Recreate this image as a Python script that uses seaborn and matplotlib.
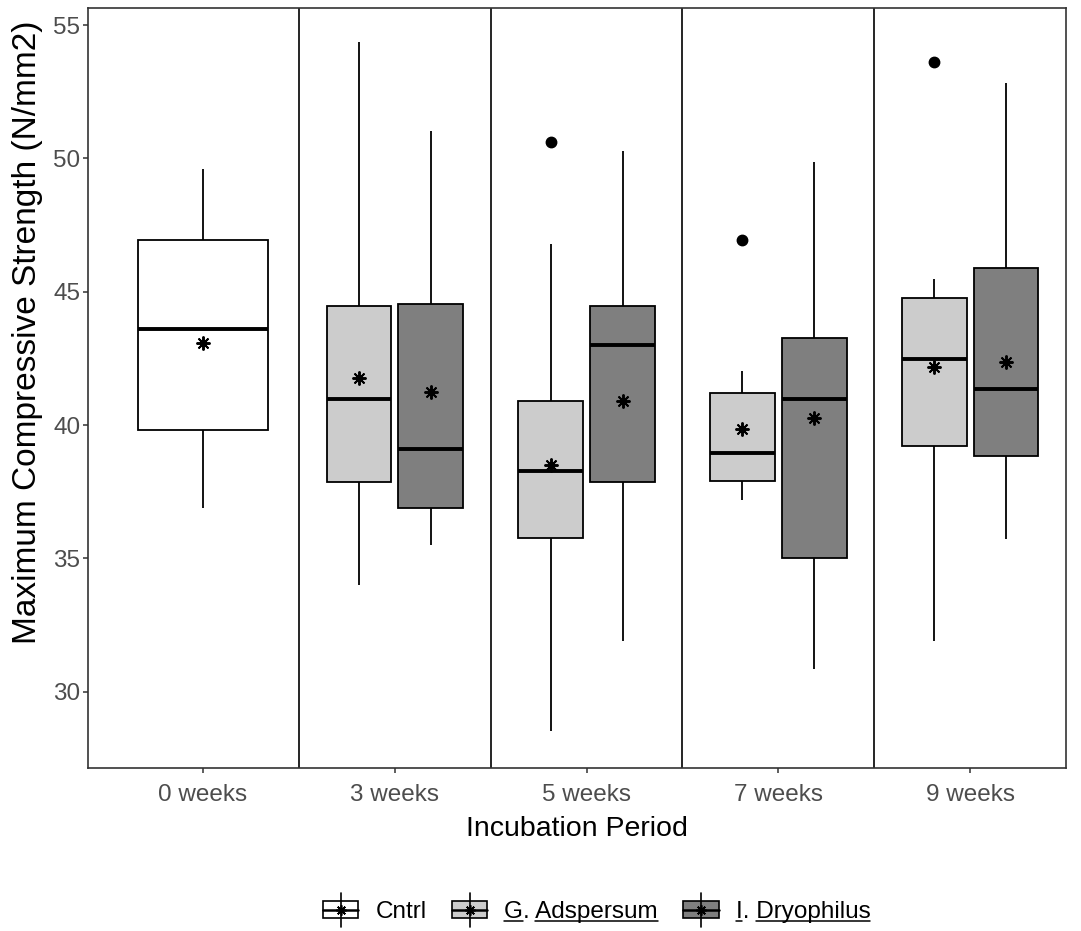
import numpy as np
import pandas as pd
import matplotlib
matplotlib.use("Agg")
import matplotlib.pyplot as plt
import seaborn as sns
from matplotlib.legend_handler import HandlerBase
from matplotlib.patches import Rectangle
from matplotlib.lines import Line2D

# ---- data -------------------------------------------------------------
weeks = ["0 weeks", "3 weeks", "5 weeks", "7 weeks", "9 weeks"]
groups = ["Cntrl", "G. Adspersum", "I. Dryophilus"]
fills = {"Cntrl": "#FFFFFF", "G. Adspersum": "#CCCCCC", "I. Dryophilus": "#7F7F7F"}

# box summaries: [whisker low, Q1, median, Q3, whisker high]
cntrl_weeks = ["0 weeks"]
cntrl_stats = [[36.88, 39.81, 43.59, 46.94, 49.60]]
cntrl_outliers = [[]]
cntrl_means = [43.09]

treat_weeks = ["3 weeks", "5 weeks", "7 weeks", "9 weeks"]
gad_stats = [[34.00, 37.85, 40.97, 44.48, 54.35],
             [28.54, 35.75, 38.28, 40.92, 46.80],
             [37.19, 37.92, 38.95, 41.22, 42.01],
             [31.90, 39.20, 42.48, 44.78, 45.46]]
gad_outliers = [[], [50.61], [46.95], [53.61]]
gad_means = [41.75, 38.51, 39.87, 42.19]

idr_stats = [[35.50, 36.88, 39.09, 44.53, 51.03],
             [31.90, 37.86, 43.00, 44.45, 50.26],
             [30.85, 35.03, 40.97, 43.25, 49.88],
             [35.73, 38.84, 41.35, 45.88, 52.81]]
idr_outliers = [[], [], [], []]
idr_means = [41.23, 40.92, 40.27, 42.35]

underlined = {"Cntrl": [], "G. Adspersum": ["G", "Adspersum"],
              "I. Dryophilus": ["I", "Dryophilus"]}


def summary_sample(stats, outliers):
    """Values whose quartiles / whiskers equal the given summary."""
    lo, q1, med, q3, hi = stats
    return [lo, q1, q1, med, med, q3, q3, hi] + list(outliers)


def long_frame(group, wks, stats, outliers):
    rows = []
    for w, s, o in zip(wks, stats, outliers):
        for v in summary_sample(s, o):
            rows.append({"week": w, "group": group, "value": v})
    return pd.DataFrame(rows)


df_c = long_frame("Cntrl", cntrl_weeks, cntrl_stats, cntrl_outliers)
df_t = pd.concat([long_frame("G. Adspersum", treat_weeks, gad_stats, gad_outliers),
                  long_frame("I. Dryophilus", treat_weeks, idr_stats, idr_outliers)],
                 ignore_index=True)
mean_c = pd.DataFrame({"week": cntrl_weeks, "group": "Cntrl", "value": cntrl_means})
mean_t = pd.concat([pd.DataFrame({"week": treat_weeks, "group": "G. Adspersum", "value": gad_means}),
                    pd.DataFrame({"week": treat_weeks, "group": "I. Dryophilus", "value": idr_means})],
                   ignore_index=True)

# ---- style ------------------------------------------------------------
sns.set_style("white")
plt.rcParams["font.family"] = ["Liberation Sans", "DejaVu Sans"]

AXCOL = "#333333"
TICKCOL = "#4D4D4D"
STAR = (8, 2, 0)

fig, ax = plt.subplots(figsize=(10.81, 9.31), dpi=100)
fig.subplots_adjust(left=88 / 1081, right=1066 / 1081, top=1 - 8 / 931, bottom=1 - 768 / 931)

box_kw = dict(x="week", y="value", hue="group", order=weeks, linecolor="black",
              linewidth=1.3, saturation=1, showcaps=False, whis=1.5, legend=False, ax=ax,
              medianprops=dict(linewidth=2.8, color="black"),
              flierprops=dict(marker="o", markersize=7.5, markerfacecolor="black",
                              markeredgecolor="black"))
sns.boxplot(data=df_c, hue_order=["Cntrl"], palette={"Cntrl": fills["Cntrl"]},
            width=0.68, dodge=False, **box_kw)
sns.boxplot(data=df_t, hue_order=groups[1:], palette={g: fills[g] for g in groups[1:]},
            width=0.75, gap=0.1, dodge=True, **box_kw)

pt_kw = dict(x="week", y="value", hue="group", order=weeks, errorbar=None,
             linestyle="none", marker=STAR, markersize=10, markeredgewidth=1.4,
             legend=False, ax=ax)
sns.pointplot(data=mean_c, hue_order=["Cntrl"], palette={"Cntrl": "black"},
              dodge=False, **pt_kw)
sns.pointplot(data=mean_t, hue_order=groups[1:], palette={g: "black" for g in groups[1:]},
              dodge=0.375, **pt_kw)

# panel separators between incubation periods
for b in np.arange(len(weeks) - 1) + 0.5:
    ax.axvline(b, color="black", lw=1.2, zorder=0.5)

ax.set_xlim(-0.6, len(weeks) - 0.5)
ax.set_ylim(27.14, 55.64)
ax.set_yticks([30, 35, 40, 45, 50, 55])
for sp in ax.spines.values():
    sp.set_visible(True)
    sp.set_color(AXCOL)
    sp.set_linewidth(1.2)
ax.tick_params(axis="both", bottom=True, left=True, length=3.6, width=1.1, color=AXCOL,
               labelcolor=TICKCOL, labelsize=17.5)
ax.tick_params(axis="x", pad=8)
ax.tick_params(axis="y", pad=2)
ax.set_xlabel("Incubation Period", fontsize=20.5, color="black", labelpad=7)
ax.set_ylabel("Maximum Compressive Strength (N/mm2)", fontsize=24, color="black")
ax.yaxis.set_label_coords(-0.046, 0.574)
ax.grid(False)


# ---- legend -----------------------------------------------------------
class BoxKey(HandlerBase):
    def __init__(self, face):
        super().__init__()
        self.face = face

    def create_artists(self, legend, orig_handle, xdescent, ydescent, width, height,
                       fontsize, trans):
        x0, y0 = -xdescent, -ydescent
        cx, cy = x0 + width / 2, y0 + height / 2
        bh = height * 0.78
        whisk = Line2D([cx, cx], [cy - height * 0.78, cy + height * 0.78], color="black",
                       lw=1.2, transform=trans)
        rect = Rectangle((x0, cy - bh / 2), width, bh, facecolor=self.face,
                         edgecolor="black", lw=1.2, transform=trans)
        med = Line2D([x0, x0 + width], [cy, cy], color="black", lw=1.8, transform=trans)
        star = Line2D([cx], [cy], marker=STAR, markersize=7.5, markeredgewidth=1.2,
                      color="black", linestyle="none", transform=trans)
        return [rect, whisk, med, star]


handles = [Rectangle((0, 0), 1, 1) for _ in groups]
leg = fig.legend(handles, groups, ncol=3, frameon=False, loc="center",
                 bbox_to_anchor=(0.552, 1 - 911 / 931), fontsize=17.5,
                 handlelength=1.45, handleheight=1.0, handletextpad=0.7,
                 columnspacing=1.05,
                 handler_map={h: BoxKey(fills[g]) for h, g in zip(handles, groups)})
for t in leg.get_texts():
    t.set_color("black")

# underline the genus initial and species name in the legend labels
fig.canvas.draw()
renderer = fig.canvas.get_renderer()
W, H = fig.bbox.width, fig.bbox.height
for txt in leg.get_texts():
    s = txt.get_text()
    fp = txt.get_fontproperties()
    bb = txt.get_window_extent(renderer)
    _, _, desc = renderer.get_text_width_height_descent(s, fp, ismath=False)
    base = bb.y0 + desc
    y = base - 0.13 * fp.get_size_in_points() * fig.dpi / 72
    for w in underlined[s]:
        i = s.index(w)
        end = bb.x0 + renderer.get_text_width_height_descent(s[:i + len(w)], fp, ismath=False)[0]
        start = end - renderer.get_text_width_height_descent(w, fp, ismath=False)[0]
        fig.add_artist(Line2D([start / W, end / W], [y / H, y / H], transform=fig.transFigure,
                              color="black", lw=1.1))

fig.savefig("out.png", dpi=100)
